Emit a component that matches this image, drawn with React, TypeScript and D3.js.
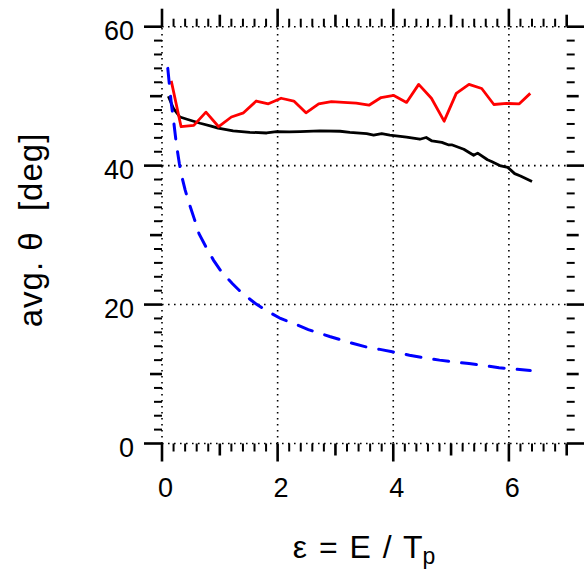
import React from "react";
import * as d3 from "d3";

const redX = [0.16, 0.33, 0.55, 0.76, 0.98, 1.2, 1.41, 1.63, 1.84, 2.06, 2.28, 2.49, 2.71, 2.93, 3.14, 3.36, 3.58, 3.79, 4.01, 4.23, 4.44, 4.66, 4.88, 5.09, 5.31, 5.53, 5.74, 5.96, 6.18, 6.37];
const redY = [52.2, 45.6, 45.8, 47.7, 45.6, 47.0, 47.6, 49.3, 48.9, 49.7, 49.3, 47.6, 48.9, 49.2, 49.1, 49.0, 48.7, 49.8, 50.1, 49.1, 51.7, 49.7, 46.4, 50.4, 51.7, 51.1, 48.8, 48.95, 48.9, 50.4];

const blackX = [0.11, 0.2, 0.31, 0.46, 0.66, 0.85, 0.97, 1.23, 1.52, 1.81, 1.98, 2.2, 2.39, 2.73, 3.08, 3.25, 3.54, 3.66, 3.8, 3.94, 4.23, 4.46, 4.57, 4.67, 4.84, 4.95, 5.01, 5.22, 5.39, 5.46, 5.63, 5.7, 5.86, 5.98, 6.1, 6.2, 6.4];
const blackY = [50.0, 48.2, 47.0, 46.6, 46.1, 45.7, 45.4, 45.0, 44.8, 44.7, 44.9, 44.85, 44.9, 45.0, 44.95, 44.8, 44.6, 44.4, 44.6, 44.4, 44.1, 43.8, 44.05, 43.55, 43.35, 43.0, 43.0, 42.35, 41.5, 41.8, 40.85, 40.6, 39.95, 39.75, 38.85, 38.5, 37.7];

const blueX = [0.1, 0.13, 0.16, 0.2, 0.25, 0.3, 0.35, 0.4, 0.48, 0.56, 0.64, 0.76, 0.89, 1.03, 1.22, 1.39, 1.61, 1.81, 2.05, 2.27, 2.53, 2.9, 3.26, 3.53, 3.77, 4.05, 4.28, 4.57, 4.8, 5.07, 5.31, 5.59, 5.83, 6.11, 6.37];
const blueY = [54.0, 51.5, 49.0, 46.5, 43.0, 40.3, 38.2, 36.5, 34.3, 32.3, 30.2, 28.3, 26.4, 24.7, 23.0, 21.6, 20.2, 19.1, 18.0, 17.3, 16.4, 15.4, 14.5, 13.9, 13.55, 13.1, 12.7, 12.3, 12.0, 11.7, 11.5, 11.2, 10.9, 10.7, 10.5];

const xMajor = [0, 2, 4, 6];
const yMajor = [0, 20, 40, 60];
const xTickLabels = ["0", "2", "4", "6"];
const yTickLabels = ["0", "20", "40", "60"];
const xDomain = [0, 7];
const yDomain = [0, 60];

const FONT = "'Liberation Sans', Arial, Helvetica, sans-serif";

export default function App() {
  const x = d3.scaleLinear().domain(xDomain).range([162, 566.7]);
  const y = d3.scaleLinear().domain(yDomain).range([443.5, 26.7]);
  const line = d3.line<[number, number]>().x((d) => x(d[0])).y((d) => y(d[1]));
  const red = redX.map((v, i) => [v, redY[i]] as [number, number]);
  const black = blackX.map((v, i) => [v, blackY[i]] as [number, number]);
  const blue = blueX.map((v, i) => [v, blueY[i]] as [number, number]);

  const xMinor = d3.range(0, 35 + 1).map((i) => +(i * 0.2).toFixed(2));
  const yMinor = d3.range(0, 31).map((i) => i * 2);

  const xLen = (v: number) => (Math.abs(v % 2) < 1e-6 ? 18 : Math.abs(v - Math.round(v)) < 1e-6 ? 12 : 8);
  const yLen = (v: number) => (v % 20 === 0 ? 18 : v % 10 === 0 ? 12 : 8);
  const xW = (v: number) => (Math.abs(v - Math.round(v)) < 1e-6 ? 2.6 : 2);
  const yW = (v: number) => (v % 10 === 0 ? 2.6 : 2);

  const x0 = x(0), x1 = x(7), y0 = y(0), y1 = y(60);

  return (
    <svg width={584} height={569} style={{ position: "absolute", left: 0, top: 0, background: "#fff" }}>
      <g stroke="#000" strokeWidth={1.6} strokeDasharray="1.6,4.4">
        {xMajor.map((v) => (
          <line key={"gx" + v} x1={x(v)} x2={x(v)} y1={y0} y2={y1} />
        ))}
        {yMajor.map((v) => (
          <line key={"gy" + v} x1={x0} x2={x1} y1={y(v)} y2={y(v)} />
        ))}
      </g>
      <g stroke="#000">
        {xMinor.map((v) => (
          <g key={"tx" + v} strokeWidth={xW(v)}>
            <line x1={x(v)} x2={x(v)} y1={y0} y2={y0 + xLen(v)} />
            <line x1={x(v)} x2={x(v)} y1={y1} y2={y1 - xLen(v)} />
          </g>
        ))}
        {yMinor.map((v) => (
          <g key={"ty" + v} strokeWidth={yW(v)}>
            <line x1={x0} x2={x0 - yLen(v)} y1={y(v)} y2={y(v)} />
            <line x1={x1} x2={x1 + yLen(v)} y1={y(v)} y2={y(v)} />
          </g>
        ))}
      </g>
      <path d={line(black) || ""} fill="none" stroke="#000" strokeWidth={2.8} strokeLinejoin="round" />
      <path d={line(red) || ""} fill="none" stroke="#ff0000" strokeWidth={2.8} strokeLinejoin="round" />
      <path d={line(blue) || ""} fill="none" stroke="#0000ff" strokeWidth={3} strokeDasharray="15,13" strokeLinecap="round" />
      <g fontFamily={FONT} fontSize={27} fill="#000">
        {xMajor.map((v, i) => (
          <text key={"lx" + v} x={x(v) + 3.5} y={497} textAnchor="middle">
            {xTickLabels[i]}
          </text>
        ))}
        {yMajor.map((v, i) => (
          <text key={"ly" + v} x={134} y={y(v) + 13} textAnchor="end">
            {yTickLabels[i]}
          </text>
        ))}
      </g>
      <text
        fontFamily={FONT}
        fontSize={33}
        letterSpacing={1}
        textAnchor="middle"
        transform="translate(42,230) rotate(-90)"
        style={{ whiteSpace: "pre" }}
      >
        {"avg. \u03b8  [deg]"}
      </text>
      <text fontFamily={FONT} fontSize={32} wordSpacing={3} textAnchor="middle" x={364} y={558} style={{ whiteSpace: "pre" }}>
        {"\u03b5 = E / T"}
        <tspan fontSize={23} dy={6}>p</tspan>
      </text>
    </svg>
  );
}
